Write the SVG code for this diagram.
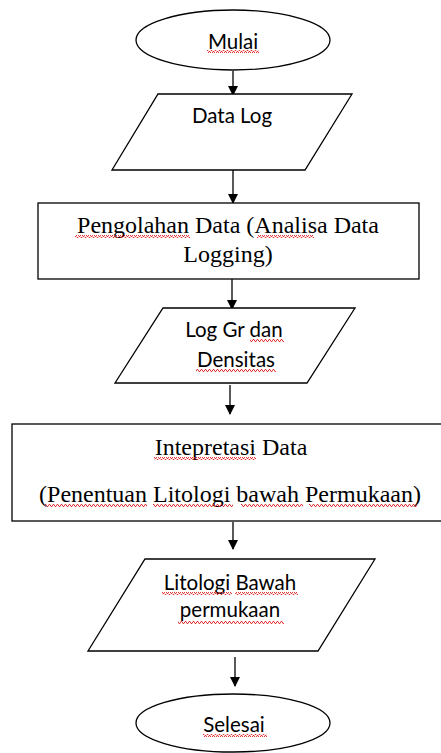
<svg xmlns="http://www.w3.org/2000/svg" width="441" height="753" viewBox="0 0 441 753">
<style>
.s{fill:#fff;stroke:#000;stroke-width:1.3}
.c{stroke:#000;stroke-width:1.3;fill:none}
.sans{font-family:Lato,"Liberation Sans",sans-serif;font-size:20.5px;fill:#000;text-anchor:middle}
.serif{font-family:"Liberation Serif","Times New Roman",serif;font-size:24px;fill:#000;text-anchor:middle}
.w{fill:url(#wave)}
</style>
<defs>
<marker id="ah" markerWidth="10" markerHeight="10" refX="9" refY="5" orient="auto" markerUnits="userSpaceOnUse">
<path d="M0,0 L10,5 L0,10 Z" fill="#000"/>
</marker>
<pattern id="wave" width="4" height="3" patternUnits="userSpaceOnUse">
<path d="M0,2.5 L1,0.5 L2,0.5 L3,2.5 L4,2.5" stroke="#e02020" stroke-width="0.9" fill="none"/>
</pattern>
</defs>
<g id="connectors">
<line class="c" x1="233" y1="71" x2="233" y2="95" marker-end="url(#ah)"/>
<line class="c" x1="233" y1="170" x2="233" y2="203" marker-end="url(#ah)"/>
<line class="c" x1="232" y1="279" x2="232" y2="309" marker-end="url(#ah)"/>
<line class="c" x1="230" y1="385" x2="230" y2="414" marker-end="url(#ah)"/>
<line class="c" x1="233" y1="522" x2="233" y2="549" marker-end="url(#ah)"/>
<line class="c" x1="235" y1="657" x2="235" y2="686" marker-end="url(#ah)"/>
</g>
<g id="mulai">
<ellipse class="s" cx="233" cy="40" rx="97" ry="30"/>
<text class="sans" x="233" y="49">Mulai</text>
<rect class="w" x="207" y="50" width="52" height="3"/>
</g>
<g id="datalog">
<polygon class="s" points="158,94 352,94 305,170 112,170"/>
<text class="sans" x="232" y="123">Data Log</text>
</g>
<g id="pengolahan">
<rect class="s" x="38" y="203" width="381" height="76"/>
<text class="serif" x="228" y="233">Pengolahan Data (Analisa Data</text>
<text class="serif" x="228" y="262">Logging)</text>
<rect class="w" x="75" y="235" width="115" height="3"/>
<rect class="w" x="257" y="235" width="57" height="3"/>
</g>
<g id="loggr">
<polygon class="s" points="163,308 355,308 307,383 115,383"/>
<text class="sans" x="234" y="337">Log Gr dan</text>
<text class="sans" x="236" y="367">Densitas</text>
<rect class="w" x="250" y="339" width="34" height="3"/>
<rect class="w" x="196" y="369" width="80" height="3"/>
</g>
<g id="interpretasi">
<rect class="s" x="12" y="424" width="432" height="97"/>
<text class="serif" x="231" y="455">Intepretasi Data</text>
<text class="serif" x="230" y="502">(Penentuan Litologi bawah Permukaan)</text>
<rect class="w" x="154" y="457" width="102" height="3"/>
<rect class="w" x="45" y="504" width="102" height="3"/>
<rect class="w" x="153" y="504" width="80" height="3"/>
<rect class="w" x="241" y="504" width="62" height="3"/>
<rect class="w" x="309" y="504" width="108" height="3"/>
</g>
<g id="litologi">
<polygon class="s" points="145,559 375,559 318,651 88,651"/>
<text class="sans" x="230" y="590">Litologi Bawah</text>
<text class="sans" x="230" y="617">permukaan</text>
<rect class="w" x="162" y="592" width="70" height="3"/>
<rect class="w" x="235" y="592" width="63" height="3"/>
<rect class="w" x="178" y="621" width="106" height="3"/>
</g>
<g id="selesai">
<ellipse class="s" cx="233" cy="723" rx="97" ry="29"/>
<text class="sans" x="234" y="732">Selesai</text>
<rect class="w" x="203" y="734" width="64" height="3"/>
</g>
</svg>
